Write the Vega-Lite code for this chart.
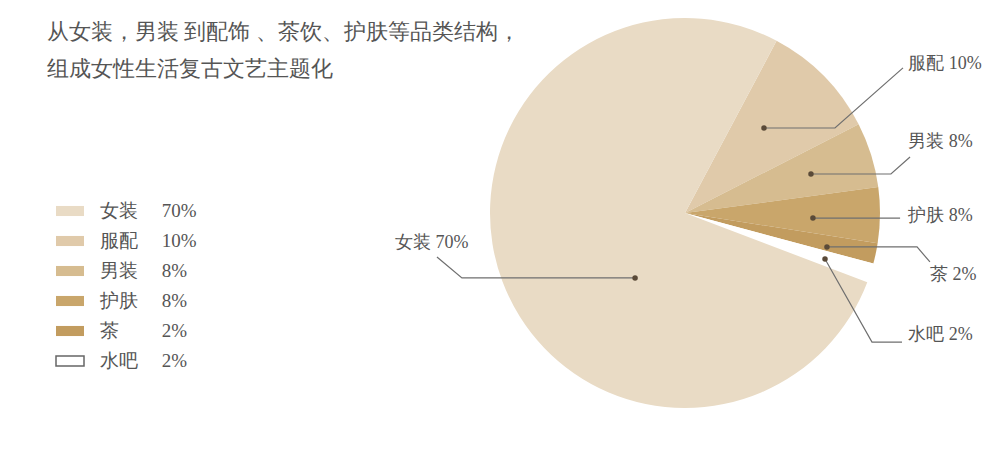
{
  "$schema": "https://vega.github.io/schema/vega-lite/v6.json",
  "width": 1002,
  "height": 459,
  "autosize": {"type": "fit", "contains": "padding"},
  "padding": 0,
  "background": "white",
  "config": {"view": {"stroke": null}},
  "datasets": {
    "shares": [
      {"cat": "服配", "share": 9.7, "ord": 1},
      {"cat": "男装", "share": 5.4, "ord": 2},
      {"cat": "护肤", "share": 4.6, "ord": 3},
      {"cat": "茶", "share": 1.7, "ord": 4},
      {"cat": "水吧", "share": 1.6, "ord": 5},
      {"cat": "女装", "share": 77.0, "ord": 6}
    ],
    "leaders": [
      {"id": "服配", "seq": 0, "u": 0.405, "v": 0.436},
      {"id": "服配", "seq": 1, "u": 0.769, "v": 0.436},
      {"id": "服配", "seq": 2, "u": 1.118, "v": 0.744},
      {"id": "男装", "seq": 0, "u": 0.646, "v": 0.2},
      {"id": "男装", "seq": 1, "u": 1.056, "v": 0.2},
      {"id": "男装", "seq": 2, "u": 1.154, "v": 0.287},
      {"id": "护肤", "seq": 0, "u": 0.656, "v": -0.026},
      {"id": "护肤", "seq": 1, "u": 1.103, "v": -0.026},
      {"id": "茶", "seq": 0, "u": 0.728, "v": -0.174},
      {"id": "茶", "seq": 1, "u": 1.19, "v": -0.174},
      {"id": "茶", "seq": 2, "u": 1.256, "v": -0.251},
      {"id": "水吧", "seq": 0, "u": 0.718, "v": -0.236},
      {"id": "水吧", "seq": 1, "u": 0.959, "v": -0.662},
      {"id": "水吧", "seq": 2, "u": 1.113, "v": -0.662},
      {"id": "女装", "seq": 0, "u": -0.256, "v": -0.333},
      {"id": "女装", "seq": 1, "u": -1.144, "v": -0.333},
      {"id": "女装", "seq": 2, "u": -1.272, "v": -0.226}
    ],
    "labels": [
      {"text": "服配 10%", "u": 1.145, "v": 0.764},
      {"text": "男装 8%", "u": 1.145, "v": 0.362},
      {"text": "护肤 8%", "u": 1.145, "v": -0.015},
      {"text": "茶 2%", "u": 1.256, "v": -0.318},
      {"text": "水吧 2%", "u": 1.145, "v": -0.626},
      {"text": "女装 70%", "u": -1.487, "v": -0.154}
    ]
  },
  "layer": [
    {
      "data": {"name": "shares"},
      "mark": {"type": "arc", "outerRadius": 195, "strokeWidth": 0},
      "encoding": {
        "x": {"datum": 0, "type": "quantitative", "scale": {"domain": [-3.51282, 1.62564], "nice": false, "zero": false}, "axis": null},
        "y": {"datum": 0, "type": "quantitative", "scale": {"domain": [-1.26154, 1.09231], "nice": false, "zero": false}, "axis": null},
        "theta": {"field": "share", "type": "quantitative", "stack": true, "scale": {"range": [0.4887, 6.7719]}},
        "order": {"field": "ord", "type": "quantitative"},
        "color": {
          "field": "cat",
          "type": "nominal",
          "scale": {
            "domain": ["女装", "服配", "男装", "护肤", "茶", "水吧"],
            "range": ["#E9DBC5", "#E0CAAA", "#D6BC90", "#C9A66B", "#C29C5F", "#FFFFFF"]
          },
          "legend": {
            "orient": "none",
            "legendX": 55,
            "legendY": 196,
            "title": null,
            "padding": 0,
            "symbolType": "M-1,-0.36H1V0.36H-1Z",
            "symbolSize": 784,
            "symbolStrokeWidth": 0,
            "labelFont": "Liberation Serif",
            "labelFontSize": 19,
            "labelColor": "#555555",
            "labelOffset": 15,
            "rowPadding": 5,
            "labelExpr": "datum.label + (datum.label === '茶' ? '\u3000' : '') + '\u3000  ' + ['70%','10%','8%','8%','2%','2%'][indexof(['女装','服配','男装','护肤','茶','水吧'], datum.label)]",
            "encode": {
              "symbols": {
                "update": {
                  "stroke": [{"test": "datum.value === '水吧'", "value": "#666666"}, {"value": "transparent"}],
                  "strokeWidth": {"value": 1.5}
                }
              }
            }
          }
        }
      }
    },
    {
      "data": {"name": "leaders"},
      "mark": {"type": "line", "color": "#6f6f6f", "strokeWidth": 1.2},
      "encoding": {
        "x": {"field": "u", "type": "quantitative"},
        "y": {"field": "v", "type": "quantitative"},
        "detail": {"field": "id"},
        "order": {"field": "seq", "type": "quantitative"}
      }
    },
    {
      "data": {"name": "leaders"},
      "transform": [{"filter": "datum.seq === 0"}],
      "mark": {"type": "point", "filled": true, "size": 30, "color": "#5a4a38", "opacity": 1},
      "encoding": {
        "x": {"field": "u", "type": "quantitative"},
        "y": {"field": "v", "type": "quantitative"}
      }
    },
    {
      "data": {"name": "labels"},
      "mark": {"type": "text", "align": "left", "baseline": "middle", "font": "Liberation Serif", "fontSize": 18, "color": "#555555"},
      "encoding": {
        "x": {"field": "u", "type": "quantitative"},
        "y": {"field": "v", "type": "quantitative"},
        "text": {"field": "text"}
      }
    },
    {
      "data": {"values": [{}]},
      "mark": {"type": "text", "align": "left", "baseline": "alphabetic", "font": "Liberation Serif", "fontSize": 22, "lineHeight": 37, "color": "#555555"},
      "encoding": {
        "x": {"datum": -3.272, "type": "quantitative"},
        "y": {"datum": 0.89, "type": "quantitative"},
        "text": {"value": ["从女装，男装 到配饰 、茶饮、护肤等品类结构，", "组成女性生活复古文艺主题化"]}
      }
    }
  ]
}
